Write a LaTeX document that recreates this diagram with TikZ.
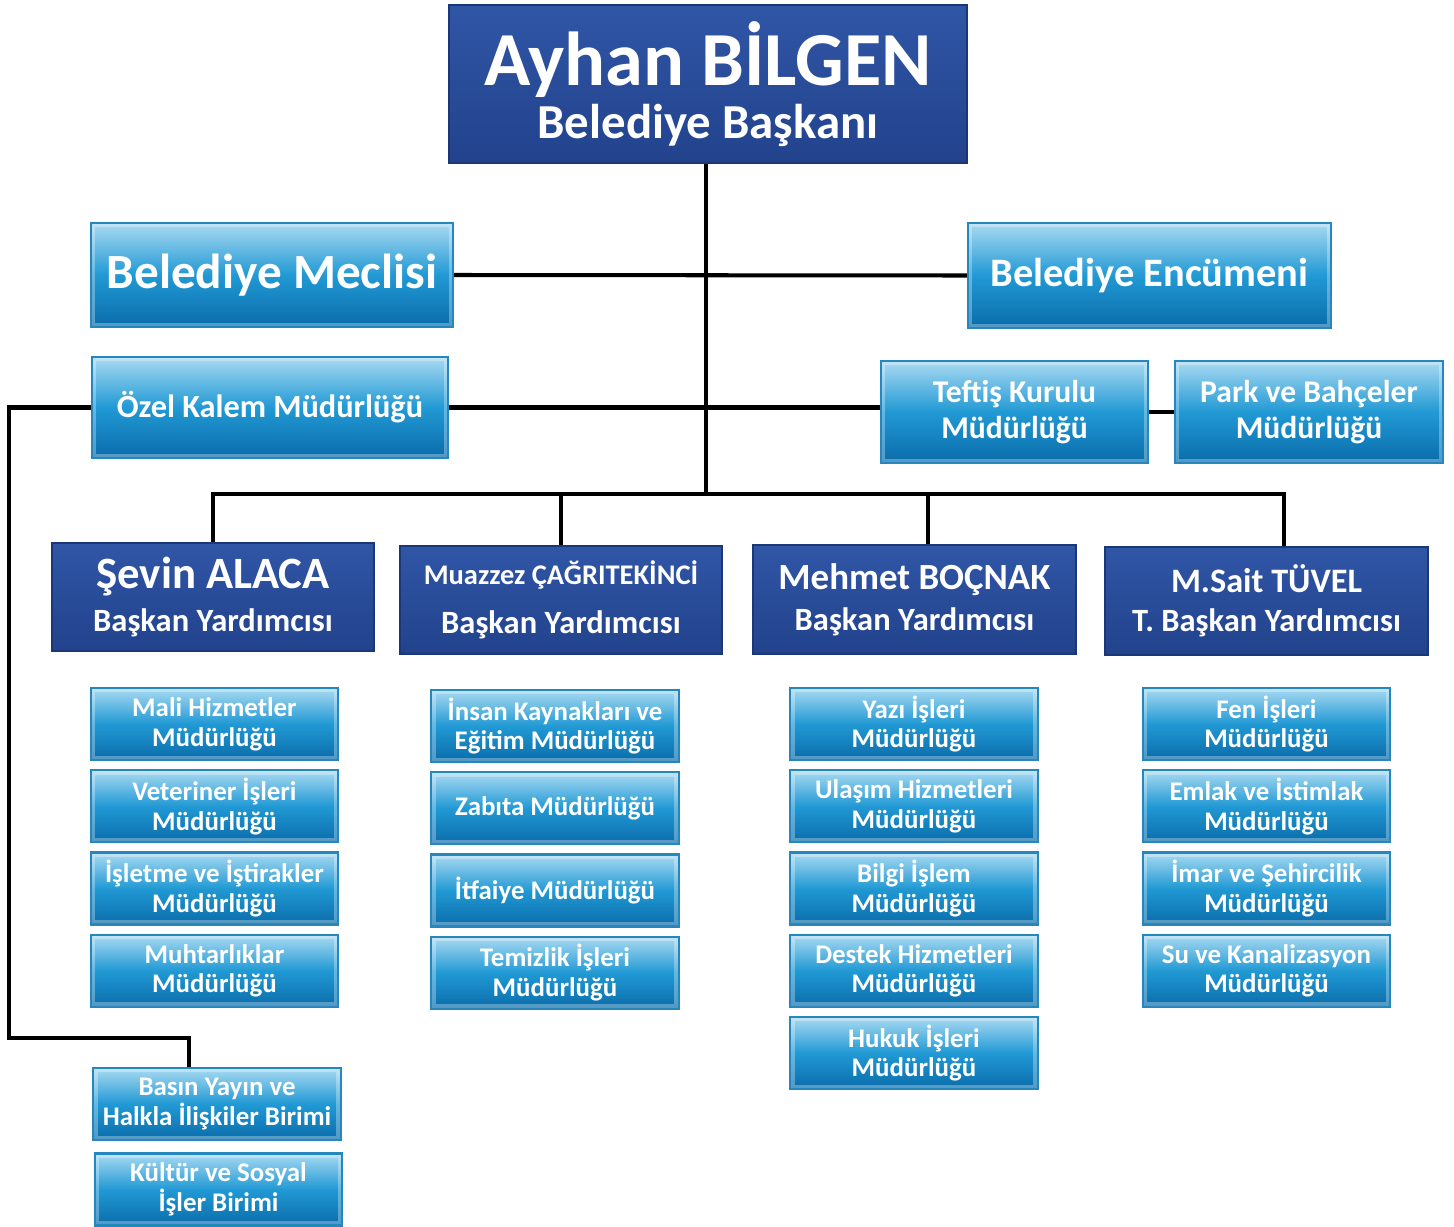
\documentclass[tikz,border=0pt]{standalone}
\usepackage{fontspec}
\setmainfont{Carlito}
\usepackage{tikz}
\usetikzlibrary{positioning}
\definecolor{navytop}{HTML}{3056A6}
\definecolor{navybot}{HTML}{22428C}
\definecolor{navyedge}{HTML}{1C3775}
\definecolor{bluetop}{HTML}{A9DAF2}
\definecolor{bluemid}{HTML}{2199D4}
\definecolor{bluebot}{HTML}{0A6CAA}
\definecolor{blueedge}{HTML}{2687BF}

\begin{document}
\begin{tikzpicture}[
x=0.02cm, y=-0.02cm,
Link/.style={draw=black, line width=2.3pt},
BoxBase/.style={line width=1.3pt, inner sep=0pt, align=center, text=white, font=\bfseries},
NavyBox/.style={BoxBase, draw=navyedge, top color=navytop, bottom color=navybot},
BlueBox/.style={BoxBase, draw=blueedge, top color=bluetop, bottom color=bluebot, middle color=bluemid,
  path picture={\draw[white, opacity=0.3, line width=5pt] (path picture bounding box.south west) rectangle (path picture bounding box.north east);}},
SmallBox/.style={BlueBox, minimum width=4.95cm, minimum height=1.44cm, font=\bfseries\fontsize{15.3}{17}\selectfont}
]
\useasboundingbox (0,0) rectangle (1454,1227);

% mayor and councils
\node[NavyBox, minimum width=10.36cm, minimum height=3.16cm] (mayor) at (708,84)
  {\fontsize{43.5}{46}\selectfont Ayhan BİLGEN\\[3pt]\fontsize{27.8}{26.6}\selectfont Belediye Başkanı};

\node[BlueBox, minimum width=7.24cm, minimum height=2.08cm, font=\bfseries\fontsize{28}{30}\selectfont] (meclis) at (272,275) {Belediye Meclisi};
\node[BlueBox, minimum width=7.26cm, minimum height=2.1cm, font=\bfseries\fontsize{23}{26}\selectfont] (encumen) at (1149.5,275.5) {Belediye Encümeni};

\node[BlueBox, minimum width=7.12cm, minimum height=2.02cm, font=\bfseries\fontsize{18.4}{20.5}\selectfont] (ozel) at (270,407.5) {Özel Kalem Müdürlüğü};
\node[BlueBox, minimum width=5.34cm, minimum height=2.04cm, font=\bfseries\fontsize{18}{20.5}\selectfont] (teftis) at (1014.5,412) {Teftiş Kurulu\\Müdürlüğü};
\node[BlueBox, minimum width=5.36cm, minimum height=2.04cm, font=\bfseries\fontsize{18}{20.5}\selectfont] (park) at (1309,412) {Park ve Bahçeler\\Müdürlüğü};

% deputies
\node[NavyBox, minimum width=6.44cm, minimum height=2.16cm] (sevin) at (213,597)
  {\fontsize{25.5}{27}\selectfont Şevin ALACA\\[6pt]\fontsize{18.5}{22.7}\selectfont Başkan Yardımcısı};
\node[NavyBox, minimum width=6.44cm, minimum height=2.16cm] (muazzez) at (561,600)
  {\fontsize{16.2}{18}\selectfont Muazzez ÇAĞRITEKİNCİ\\[11pt]\fontsize{18.5}{26}\selectfont Başkan Yardımcısı};
\node[NavyBox, minimum width=6.46cm, minimum height=2.18cm] (mehmet) at (914.5,599.5)
  {\fontsize{21}{23}\selectfont Mehmet BOÇNAK\\[6pt]\fontsize{18.5}{21.5}\selectfont Başkan Yardımcısı};
\node[NavyBox, minimum width=6.46cm, minimum height=2.16cm] (sait) at (1266.5,601)
  {\fontsize{19.5}{21}\selectfont M.Sait TÜVEL\\[8pt]\fontsize{18.5}{22.7}\selectfont T. Başkan Yardımcısı};

% directorates
\node[SmallBox] (mali) at (214.5,724) {Mali Hizmetler\\Müdürlüğü};
\node[SmallBox, below=0.16cm of mali] (veteriner) {Veteriner İşleri\\Müdürlüğü};
\node[SmallBox, below=0.16cm of veteriner] (isletme) {İşletme ve İştirakler\\Müdürlüğü};
\node[SmallBox, below=0.16cm of isletme] (muhtar) {Muhtarlıklar\\Müdürlüğü};

\node[SmallBox] (insan) at (555,726) {İnsan Kaynakları ve\\Eğitim Müdürlüğü};
\node[SmallBox, below=0.16cm of insan] (zabita) {Zabıta Müdürlüğü};
\node[SmallBox, below=0.16cm of zabita] (itfaiye) {İtfaiye Müdürlüğü};
\node[SmallBox, below=0.16cm of itfaiye] (temizlik) {Temizlik İşleri\\Müdürlüğü};

\node[SmallBox] (yazi) at (914,724) {Yazı İşleri\\Müdürlüğü};
\node[SmallBox, below=0.16cm of yazi] (ulasim) {Ulaşım Hizmetleri\\Müdürlüğü};
\node[SmallBox, below=0.16cm of ulasim] (bilgi) {Bilgi İşlem\\Müdürlüğü};
\node[SmallBox, below=0.16cm of bilgi] (destek) {Destek Hizmetleri\\Müdürlüğü};
\node[SmallBox, below=0.16cm of destek] (hukuk) {Hukuk İşleri\\Müdürlüğü};

\node[SmallBox] (fen) at (1266.5,724) {Fen İşleri\\Müdürlüğü};
\node[SmallBox, below=0.16cm of fen] (emlak) {Emlak ve İstimlak\\Müdürlüğü};
\node[SmallBox, below=0.16cm of emlak] (imar) {İmar ve Şehircilik\\Müdürlüğü};
\node[SmallBox, below=0.16cm of imar] (su) {Su ve Kanalizasyon\\Müdürlüğü};

\node[SmallBox] (basin) at (217,1104) {Basın Yayın ve\\Halkla İlişkiler Birimi};
\node[SmallBox] (kultur) at (218.5,1189.5) {Kültür ve Sosyal\\İşler Birimi};

% connectors
\coordinate (bus) at (706,494);
\coordinate (lft) at (9,1038);
\coordinate (drop) at (189,1038);

\draw[Link] (mayor.south -| bus) -- (bus);
\draw[Link] (meclis.east) -- (encumen.west);
\draw[Link] (ozel.east) -- (ozel.east -| teftis.west);
\draw[Link] (teftis.east) -- (teftis.east -| park.west);
\draw[Link] (sevin.north) |- (bus) -| ([xshift=0.35cm]sait.north);
\draw[Link] (muazzez.north) -- (muazzez.north |- bus);
\draw[Link] ([xshift=0.27cm]mehmet.north) -- ([xshift=0.27cm]mehmet.north |- bus);
\draw[Link] (ozel.west) -| (lft) -- (drop) -- (drop |- basin.north);

\end{tikzpicture}
\end{document}
